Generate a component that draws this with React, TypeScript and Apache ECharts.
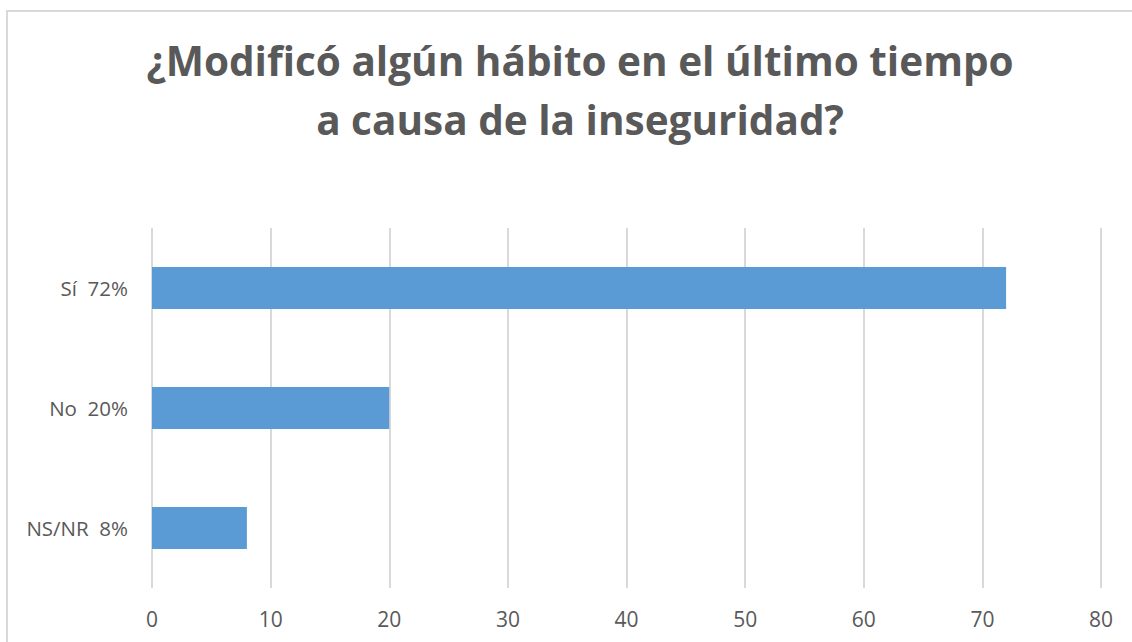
import React, { useEffect, useRef } from "react";
import * as echarts from "echarts";

const categories = ["Sí  72%", "No  20%", "NS/NR  8%"];
const values = [72, 20, 8];
const titleText = "¿Modificó algún hábito en el último tiempo\na causa de la inseguridad?";
const xMin = 0;
const xMax = 80;
const xInterval = 10;

export default function App() {
  const ref = useRef<HTMLDivElement>(null);
  useEffect(() => {
    document.body.style.margin = "0";
    const chart = echarts.init(ref.current!, null, { renderer: "svg" });
    chart.setOption({
      animation: false,
      backgroundColor: "#ffffff",
      title: {
        text: titleText,
        left: 575,
        top: 26,
        textAlign: "center",
        textStyle: {
          fontFamily: "Open Sans",
          fontWeight: "bold",
          fontSize: 40.5,
          lineHeight: 59,
          color: "#595959",
        },
      },
      graphic: [
        {
          type: "rect",
          silent: true,
          shape: { x: 7, y: 11, width: 1300, height: 800 },
          style: { fill: "none", stroke: "#d9d9d9", lineWidth: 2 },
        },
      ],
      grid: { left: 152, right: 31, top: 228, bottom: 54, containLabel: false },
      xAxis: {
        type: "value",
        min: xMin,
        max: xMax,
        interval: xInterval,
        axisLine: { show: false },
        axisTick: { show: false },
        axisLabel: {
          margin: 20,
          color: "#595959",
          fontFamily: "Open Sans",
          fontSize: 21,
        },
        splitLine: { show: true, lineStyle: { color: "#d9d9d9", width: 2 } },
      },
      yAxis: {
        type: "category",
        data: categories,
        inverse: true,
        axisLine: { show: false },
        axisTick: { show: false },
        axisLabel: {
          margin: 24,
          color: "#595959",
          fontFamily: "Open Sans",
          fontSize: 20.5,
        },
      },
      series: [
        {
          type: "bar",
          data: values,
          barWidth: 42,
          itemStyle: { color: "#5B9BD5" },
        },
      ],
    });
    return () => chart.dispose();
  }, []);
  return <div ref={ref} style={{ width: 1132, height: 642 }} />;
}
